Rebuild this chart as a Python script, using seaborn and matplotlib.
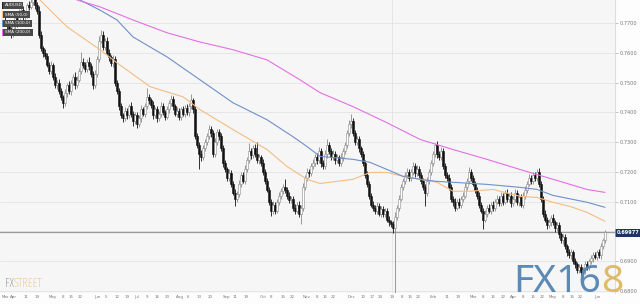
import logging
import numpy as np
import pandas as pd
import matplotlib
matplotlib.use("Agg")
import matplotlib.pyplot as plt
from matplotlib.patches import Rectangle
from matplotlib.font_manager import FontProperties
import seaborn as sns

logging.getLogger("matplotlib.font_manager").setLevel(logging.ERROR)

# ---------------- data (prices in pips, 1 pip = 0.0001) ----------------
first_open = 7710
closes = [
    7700, 7690, 7675, 7660, 7690, 7715, 7700, 7735, 7745, 7720,
    7730, 7760, 7755, 7770, 7785, 7760, 7740, 7660, 7615, 7600,
    7590, 7560, 7540, 7560, 7520, 7490, 7500, 7470, 7450, 7430,
    7465, 7490, 7470, 7500, 7520, 7490, 7510, 7540, 7570, 7560,
    7545, 7570, 7555, 7530, 7490, 7530, 7580, 7640, 7660, 7620,
    7640, 7600, 7585, 7565, 7580, 7500, 7470, 7420, 7390, 7380,
    7405, 7390, 7420, 7395, 7370, 7390, 7360, 7380, 7410, 7395,
    7420, 7450, 7440, 7425, 7390, 7410, 7380, 7395, 7420, 7400,
    7385, 7410, 7430, 7445, 7420, 7395, 7405, 7385, 7410, 7395,
    7415, 7400, 7420, 7440, 7410, 7320, 7290, 7260, 7250, 7280,
    7300, 7320, 7345, 7330, 7260, 7300, 7335, 7320, 7280, 7230,
    7210, 7180, 7195, 7160, 7130, 7110, 7125, 7160, 7190, 7170,
    7210, 7240, 7270, 7255, 7280, 7260, 7240, 7250, 7230, 7200,
    7170, 7140, 7100, 7070, 7090, 7070, 7100, 7120, 7135, 7150,
    7140, 7120, 7105, 7110, 7080, 7070, 7090, 7060, 7080, 7150,
    7180, 7200, 7195, 7220, 7230, 7250, 7240, 7270, 7230, 7220,
    7260, 7290, 7270, 7250, 7260, 7240, 7250, 7230, 7250, 7270,
    7290, 7330, 7360, 7370, 7330, 7300, 7310, 7280, 7260, 7230,
    7190, 7160, 7120, 7090, 7080, 7070, 7085, 7060, 7075, 7060,
    7070, 7040, 7030, 7025, 7010, 7050, 7080, 7110, 7150, 7170,
    7190, 7200, 7180, 7200, 7220, 7195, 7210, 7190, 7170, 7150,
    7130, 7170, 7200, 7230, 7260, 7290, 7260, 7250, 7270, 7220,
    7190, 7180, 7150, 7110, 7100, 7080, 7100, 7090, 7110, 7120,
    7150, 7170, 7200, 7180, 7160, 7140, 7120, 7090, 7070, 7040,
    7060, 7080, 7070, 7090, 7080, 7100, 7110, 7095, 7120, 7100,
    7130, 7110, 7120, 7095, 7110, 7130, 7100, 7115, 7090, 7120,
    7140, 7160, 7180, 7170, 7190, 7180, 7200, 7160, 7110, 7060,
    7040, 7020, 7030, 7045, 7030, 7010, 7020, 6990, 6970, 6980,
    6950, 6930, 6920, 6930, 6900, 6890, 6870, 6880, 6865, 6870,
    6890, 6880, 6900, 6910, 6920, 6915, 6930, 6920, 6950, 6970, 6997.7,
]
wick_up = [
    12, 8, 15, 10, 6, 14, 9, 11, 7, 13,
    10, 8, 12, 9, 15, 7, 10, 18, 12, 9,
    14, 10, 8, 12, 7, 11, 9, 13, 10, 8,
    12, 9, 15, 8, 10, 14, 11, 9, 33, 12,
    10, 8, 14, 11, 9, 12, 10, 15, 17, 13,
    9, 14, 11, 8, 12, 10, 9, 13, 11, 8,
    12, 10, 8, 14, 9, 11, 12, 10, 15, 9,
    11, 33, 10, 8, 13, 9, 12, 10, 14, 11,
    9, 12, 10, 14, 11, 8, 13, 10, 9, 12,
    10, 14, 11, 20, 8, 12, 10, 9, 13, 11,
    10, 12, 14, 9, 11, 13, 10, 8, 12, 9,
    11, 8, 13, 10, 9, 12, 10, 14, 9, 11,
    12, 10, 28, 9, 11, 13, 40, 10, 8, 12,
    9, 11, 10, 8, 12, 10, 9, 13, 11, 10,
    25, 9, 12, 10, 8, 11, 9, 12, 10, 14,
    10, 12, 9, 11, 13, 10, 12, 15, 9, 11,
    12, 19, 10, 9, 13, 11, 10, 8, 12, 10,
    11, 12, 14, 23, 10, 9, 12, 10, 8, 11,
    9, 12, 10, 8, 11, 9, 13, 10, 12, 9,
    10, 8, 12, 9, 11, 14, 10, 12, 9, 11,
    10, 13, 9, 11, 14, 10, 12, 9, 11, 8,
    10, 12, 9, 11, 10, 8, 12, 10, 14, 9,
    11, 9, 12, 10, 8, 11, 9, 12, 10, 11,
    12, 10, 15, 9, 11, 10, 8, 12, 9, 10,
    11, 9, 12, 10, 13, 9, 11, 10, 12, 9,
    10, 12, 9, 11, 10, 13, 9, 11, 10, 12,
    11, 10, 12, 9, 11, 10, 8, 12, 9, 10,
    12, 9, 11, 10, 12, 9, 11, 10, 8, 12,
    10, 9, 12, 10, 8, 11, 9, 12, 10, 9,
    11, 10, 9, 12, 10, 11, 9, 12, 10, 9, 8,
]
wick_dn = [
    10, 14, 9, 12, 8, 11, 13, 9, 12, 10,
    9, 12, 10, 8, 11, 13, 9, 12, 10, 14,
    11, 9, 13, 10, 12, 8, 11, 10, 9, 15,
    10, 12, 9, 11, 8, 13, 10, 9, 11, 12,
    9, 11, 13, 10, 12, 9, 11, 10, 8, 12,
    11, 9, 12, 10, 13, 11, 9, 12, 10, 14,
    9, 11, 10, 12, 15, 9, 13, 10, 11, 9,
    12, 10, 11, 9, 13, 10, 12, 9, 11, 10,
    12, 9, 11, 10, 13, 9, 11, 12, 10, 9,
    11, 10, 12, 9, 13, 11, 10, 52, 12, 9,
    11, 10, 9, 12, 10, 11, 9, 13, 10, 12,
    9, 11, 10, 12, 9, 25, 11, 10, 12, 9,
    11, 10, 9, 12, 10, 11, 9, 13, 10, 12,
    11, 9, 12, 19, 10, 11, 9, 12, 10, 11,
    10, 12, 9, 11, 10, 13, 9, 12, 36, 10,
    11, 9, 12, 10, 11, 9, 12, 10, 13, 11,
    10, 12, 9, 11, 10, 12, 9, 11, 10, 12,
    9, 11, 10, 12, 9, 11, 10, 12, 9, 11,
    10, 12, 11, 9, 13, 10, 12, 9, 11, 10,
    12, 9, 11, 10, 15, 294, 12, 10, 9, 11,
    10, 12, 9, 11, 10, 13, 9, 11, 10, 12,
    45, 10, 12, 9, 11, 10, 12, 9, 11, 10,
    12, 9, 11, 10, 13, 12, 9, 11, 10, 12,
    9, 11, 10, 12, 9, 11, 10, 12, 9, 33,
    10, 12, 9, 11, 10, 13, 9, 11, 10, 12,
    9, 11, 10, 12, 9, 11, 10, 13, 9, 11,
    10, 12, 9, 11, 10, 12, 9, 11, 10, 12,
    9, 11, 10, 12, 9, 11, 10, 12, 9, 11,
    10, 12, 9, 11, 10, 12, 9, 11, 10, 8,
    12, 9, 11, 10, 12, 9, 11, 10, 12, 9, 10,
]

# moving averages, read at candle positions
sma50_idx = [17.5, 31, 47.5, 56, 72.5, 89, 97.5, 114, 131, 141, 151, 157.5, 174, 182.5,
             191, 199, 207.5, 216, 224, 232.5, 244, 257.5, 266, 274, 282.5, 291, 300]
sma50_val = [7777, 7687, 7610, 7566, 7486, 7452, 7409, 7342, 7275, 7218, 7175, 7161, 7175, 7198,
             7198, 7185, 7175, 7165, 7135, 7135, 7141, 7118, 7114, 7098, 7084, 7064, 7034]
sma100_idx = [37.5, 47.5, 56, 64, 81, 97.5, 114, 131, 144, 151, 157.5, 174, 182.5, 191, 199,
              207.5, 216, 224, 241, 257.5, 266, 274, 291, 300]
sma100_val = [7777, 7743, 7710, 7653, 7586, 7509, 7432, 7375, 7318, 7285, 7252, 7242, 7232, 7208,
              7185, 7175, 7168, 7165, 7158, 7148, 7141, 7121, 7098, 7081]
sma200_idx = [36, 47.5, 64, 81, 97.5, 114, 131, 147.5, 157.5, 174, 191, 207.5, 224, 241, 257.5,
              274, 291, 300]
sma200_val = [7777, 7754, 7710, 7667, 7636, 7610, 7576, 7509, 7466, 7419, 7365, 7309, 7275, 7242,
              7208, 7175, 7141, 7131]

y_ticks = [0.68, 0.69, 0.70, 0.71, 0.72, 0.73, 0.74, 0.75, 0.76, 0.77]
x_tick_labels = ["Mar", "Apr", "11", "19", "May", "8", "15", "22", "Jun", "5", "12", "19",
                 "Jul", "9", "16", "23", "Aug", "6", "13", "20", "Sep", "11", "19", "Oct", "8",
                 "15", "22", "Nov", "8", "15", "22", "Dec", "10", "17", "24", "19", "8", "15",
                 "22", "Feb", "11", "19", "Mar", "8", "15", "22", "Apr", "8", "15", "22", "May",
                 "8", "15", "22", "Jun"]
x_tick_pos = [0.3, 4, 10.5, 16, 24, 29, 33, 37.5, 46, 50.5, 56, 61, 66, 71, 76, 81, 87.5, 91.5,
              97, 102.5, 111, 115, 120.5, 129, 133, 139, 143.5, 151, 156, 160, 164, 173.5, 179,
              183.5, 187.5, 193.5, 198.5, 202.5, 206.5, 214, 221, 226.5, 234, 239, 244, 249, 254,
              259, 264, 268.5, 274, 279, 283.5, 287.5, 296]
legend_labels = ["AUDUSD", "SMA (50,0)", "SMA (100,0)", "SMA (200,0)"]

# ---------------- figure ----------------
sns.set_theme(style="white")
plt.rcParams["font.family"] = ["DejaVu Sans"]

W, H = 640, 304
fig = plt.figure(figsize=(6.4, 3.04), dpi=100)
fig.patch.set_facecolor("#fdfdfd")
ax = fig.add_axes([0, 11 / H, 615 / W, 293 / H])
ax.set_facecolor("#f6f6f6")

c = np.array(closes) / 10000.0
o = np.r_[first_open, closes[:-1]] / 10000.0
hi = np.maximum(o, c) + np.array(wick_up) / 10000.0
lo = np.minimum(o, c) - np.array(wick_dn) / 10000.0
x = np.arange(len(c))
df = pd.DataFrame({"x": x, "open": o, "close": c, "high": hi, "low": lo})
bull = df["close"] >= df["open"]

# grid
for t in y_ticks:
    ax.axhline(t, color="#e3e3e3", lw=0.6, zorder=0)
ax.axvline(193.5, color="#e3e3e3", lw=0.6, zorder=0)

# wicks
ax.vlines(df["x"], df["low"], df["high"],
          colors=np.where(bull, "#8a8a8a", "#111111"), lw=0.6, zorder=2)
# bodies
body = np.maximum((df["close"] - df["open"]).abs(), 0.00006)
ax.bar(df["x"], body, bottom=np.minimum(df["open"], df["close"]), width=1.3,
       color=np.where(bull, "#ffffff", "#111111"),
       edgecolor=np.where(bull, "#8a8a8a", "#111111"), lw=0.4, zorder=3)

# SMAs
for idx, val, col in [(sma50_idx, sma50_val, "#f3bd84"),
                      (sma100_idx, sma100_val, "#6f90c8"),
                      (sma200_idx, sma200_val, "#e46fe4")]:
    sns.lineplot(x=idx, y=np.array(val) / 10000.0, ax=ax, color=col, lw=0.8, zorder=4)

last = c[-1]
ax.axhline(last, color="#9a9a9a", lw=0.9, zorder=1)

ax.set_xlim(-2.5, 305)
ax.set_ylim(0.67933, 0.77770)

ax.yaxis.tick_right()
ax.set_yticks(y_ticks)
ax.set_yticklabels([f"{t:.4f}" for t in y_ticks])
ax.tick_params(axis="y", length=2, width=0.5, color="#aaaaaa", labelsize=3.6,
               labelcolor="#777777", pad=1.5, right=True)
ax.set_xticks(x_tick_pos)
ax.set_xticklabels(x_tick_labels)
ax.tick_params(axis="x", length=0, labelsize=2.9, labelcolor="#777777", pad=1.5)
for s in ["top", "left", "bottom"]:
    ax.spines[s].set_visible(False)
ax.spines["right"].set_color("#dddddd")
ax.spines["right"].set_linewidth(0.8)
ax.set_xlabel("")
ax.set_ylabel("")

# legend boxes (top-left)
leg_cols = ["#222222", "#f3bd84", "#6f90c8", "#e46fe4"]
leg_y = [5.5, 14.5, 23.5, 32]
leg_w = [21, 28, 30, 31]
for lab, col, yy, ww in zip(legend_labels, leg_cols, leg_y, leg_w):
    fig.patches.append(Rectangle((2 / W, 1 - (yy + 3.5) / H), ww / W, 7 / H,
                                 transform=fig.transFigure, fc="#4a4a4a", ec="none", zorder=10))
    fig.patches.append(Rectangle((2 / W, 1 - (yy + 3.5) / H), 1.5 / W, 7 / H,
                                 transform=fig.transFigure, fc=col, ec="none", zorder=11))
    fig.text(5 / W, 1 - yy / H, lab, color="white", fontsize=3.0, va="center", ha="left",
             zorder=12)

# current price label
fig.text(617 / W, 1 - 233 / H, f"{last:.5f}", color="white", fontsize=3.6, weight="bold",
         va="center", ha="left", zorder=12,
         bbox=dict(boxstyle="round,pad=0.3,rounding_size=0.15", fc="#1d3462", ec="none"))

# ---------------- watermarks (real text, narrowest available font) ----------------
renderer = fig.canvas.get_renderer()
candidates = [
    dict(family="Liberation Sans Narrow"),
    dict(family="DejaVu Sans", stretch="condensed"),
    dict(family="Noto Sans", stretch="condensed"),
    dict(family="Roboto", stretch="condensed"),
    dict(family="Open Sans", stretch="condensed"),
    dict(family="Liberation Sans"),
    dict(family="DejaVu Sans"),
]


def text_width(word, fp, size):
    t = fig.text(0, 0, word, fontproperties=fp, fontsize=size)
    w = t.get_window_extent(renderer).width
    t.remove()
    return w


def narrowest(word, weight):
    best, best_w = None, 1e9
    for cand in candidates:
        fp = FontProperties(weight=weight, **cand)
        w = text_width(word, fp, 40)
        if w < best_w:
            best, best_w = fp, w
    return best, best_w


def fitted_word(parts, colors, x0, y_base, width, cap_h, weight, alpha=1.0):
    word = "".join(parts)
    fp, w40 = narrowest(word, weight)
    size = min(40 * width / w40, cap_h)
    xx = x0
    for p, col in zip(parts, colors):
        t = fig.text(xx / W, 1 - y_base / H, p, fontproperties=fp, fontsize=size,
                     color=col, ha="left", va="baseline", alpha=alpha, zorder=12)
        xx += t.get_window_extent(renderer).width


fitted_word(["FX", "STREET"], ["#a0a0a0", "#f2c795"], 5, 287, 38, 9, "normal")
fitted_word(["FX16", "8"], ["#4f82b2", "#dcb75e"], 513, 292, 110, 37, "bold", alpha=0.93)

fig.savefig("out.png", dpi=100, facecolor=fig.get_facecolor())
